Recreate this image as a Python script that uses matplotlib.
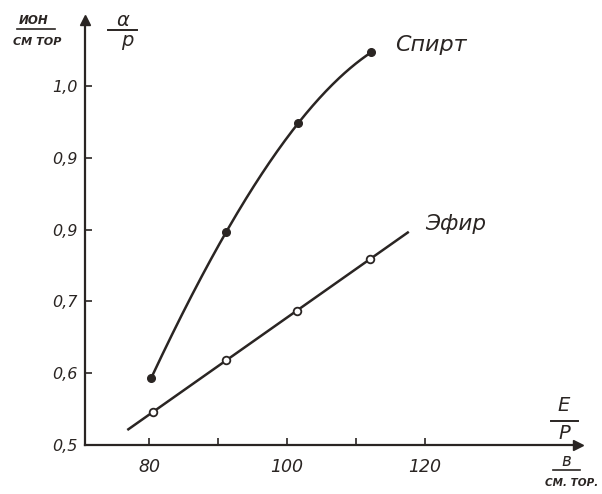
import numpy as np
from matplotlib import pyplot as plt

# readings (E/p in V/(cm Torr), alpha/p in ion/(cm Torr))
spirt_x = [80.3, 91.2, 101.6, 112.2]
spirt_y = [0.593, 0.797, 0.948, 1.047]
efir_x = [80.6, 91.1, 101.5, 112.0]
efir_y = [0.546, 0.618, 0.687, 0.759]
efir_line_x = [77.0, 117.5]

x_ticks = [80, 90, 100, 110, 120]
x_labels = ["80", "", "100", "", "120"]
y_ticks = [0.5, 0.6, 0.7, 0.8, 0.9, 1.0]
y_labels = ["0,5", "0,6", "0,7", "0,9", "0,9", "1,0"]

ink = "#2a2523"
W, H = 602, 494


def px(x, y):
    # pixel position on the figure -> figure fraction
    return x / W, 1 - y / H


fig = plt.figure(figsize=(W / 100, H / 100), dpi=100)
ax = fig.add_axes([85 / W, 1 - 445 / H, 493 / W, 425 / H])
ax.set_xlim(70.72, 142.17)
ax.set_ylim(0.5, 1.092)

for side in ("top", "right"):
    ax.spines[side].set_visible(False)
for side in ("left", "bottom"):
    ax.spines[side].set_linewidth(1.6)
    ax.spines[side].set_color(ink)

# arrow heads on the axes
ax.plot(1, 0, marker=">", markersize=7, color=ink, transform=ax.transAxes, clip_on=False)
ax.plot(0, 1, marker="^", markersize=7, color=ink, transform=ax.transAxes, clip_on=False)

ax.set_xticks(x_ticks)
ax.set_xticklabels(x_labels)
ax.set_yticks(y_ticks)
ax.set_yticklabels(y_labels)
ax.tick_params(direction="in", length=5, width=1.2, color=ink, labelcolor=ink)
ax.tick_params(axis="x", pad=9, labelsize=12.5)
ax.tick_params(axis="y", pad=5, labelsize=11.5)
for lab in ax.get_xticklabels() + ax.get_yticklabels():
    lab.set_fontstyle("italic")

# spirit: smooth curve through the points
coef = np.polyfit(spirt_x, spirt_y, 3)
xs = np.linspace(spirt_x[0], spirt_x[-1], 200)
ax.plot(xs, np.polyval(coef, xs), color=ink, lw=1.8)
ax.plot(spirt_x, spirt_y, "o", color=ink, markersize=5.5)

# ether: straight line
k, b = np.polyfit(efir_x, efir_y, 1)
lx = np.array(efir_line_x)
ax.plot(lx, k * lx + b, color=ink, lw=1.8)
ax.plot(efir_x, efir_y, "o", color=ink, markerfacecolor="white", markersize=5.5, markeredgewidth=1.3)

txt = dict(color=ink, style="italic", family="DejaVu Sans")
fig.text(*px(395, 45), "Спирт", ha="left", va="center", fontsize=16, **txt)
fig.text(*px(425, 224), "Эфир", ha="left", va="center", fontsize=15.5, **txt)

# axis names as fractions
fig.text(*px(123, 21), "α", ha="center", va="center", fontsize=14, **txt)
fig.text(*px(127, 40), "p", ha="center", va="center", fontsize=14, **txt)
fig.add_artist(plt.Line2D([108 / W, 137 / W], [1 - 30 / H] * 2, color=ink, lw=1.4))

fig.text(*px(34, 21), "ИОН", ha="center", va="center", fontsize=8.5, weight="bold", **txt)
fig.text(*px(37, 42), "СМ ТОР", ha="center", va="center", fontsize=8, weight="bold", **txt)
fig.add_artist(plt.Line2D([17 / W, 55 / W], [1 - 29 / H] * 2, color=ink, lw=1.2))

fig.text(*px(564, 405), "E", ha="center", va="center", fontsize=14, **txt)
fig.text(*px(564, 433), "P", ha="center", va="center", fontsize=14, **txt)
fig.add_artist(plt.Line2D([551 / W, 578 / W], [1 - 421 / H] * 2, color=ink, lw=1.4))

fig.text(*px(566, 461), "в", ha="center", va="center", fontsize=12, **txt)
fig.text(*px(572, 483), "СМ. ТОР.", ha="center", va="center", fontsize=7.5, weight="bold", **txt)
fig.add_artist(plt.Line2D([553 / W, 580 / W], [1 - 470 / H] * 2, color=ink, lw=1.2))

plt.savefig("out.png", dpi=100, facecolor="white")
